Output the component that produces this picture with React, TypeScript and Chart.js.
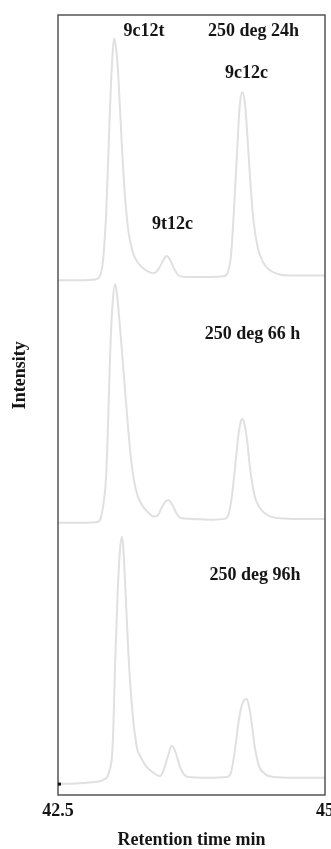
import React, { useEffect, useRef } from "react";
import { Chart, registerables } from "chart.js";

Chart.register(...registerables);

// ---- Data (retention time in min, intensity in arbitrary units above each trace's baseline) ----
const seriesNames = ["250 deg 24h", "250 deg 66 h", "250 deg 96h"];

const time24h = [42.5, 42.7, 42.85, 42.89, 42.92, 42.95, 42.97, 42.99, 43.01, 43.025, 43.04, 43.06, 43.08, 43.1, 43.13, 43.16, 43.2, 43.25, 43.3, 43.36, 43.4, 43.44, 43.48, 43.515, 43.55, 43.59, 43.63, 43.7, 43.9, 44.05, 44.09, 44.12, 44.15, 44.18, 44.2, 44.225, 44.25, 44.27, 44.3, 44.33, 44.37, 44.42, 44.48, 44.56, 44.7, 45.0];
const intensity24h = [0, 0, 0.1, 0.5, 2.3, 8.3, 15.4, 23.1, 28.8, 31.0, 30.1, 27.2, 22.1, 16.7, 10.3, 6.2, 3.6, 2.2, 1.5, 1.0, 0.9, 1.4, 2.4, 3.1, 2.6, 1.4, 0.6, 0.4, 0.4, 0.5, 1.0, 3.2, 9.6, 17.3, 22.1, 24.1, 22.7, 19.2, 12.8, 7.7, 4.2, 2.3, 1.3, 0.8, 0.6, 0.6];

const time66h = [42.5, 42.72, 42.87, 42.9, 42.93, 42.95, 42.97, 42.99, 43.01, 43.035, 43.055, 43.075, 43.1, 43.13, 43.16, 43.19, 43.23, 43.28, 43.34, 43.4, 43.43, 43.47, 43.51, 43.535, 43.57, 43.61, 43.65, 43.75, 43.95, 44.06, 44.1, 44.13, 44.16, 44.19, 44.21, 44.225, 44.245, 44.27, 44.3, 44.34, 44.39, 44.46, 44.55, 44.7, 45.0];
const intensity66h = [0, 0, 0.1, 0.6, 2.9, 5.8, 13.2, 22.2, 27.9, 30.6, 29.0, 26.0, 21.8, 16.6, 11.6, 7.5, 4.2, 2.4, 1.4, 0.8, 0.9, 1.9, 2.8, 2.9, 2.3, 1.2, 0.6, 0.5, 0.4, 0.5, 1.2, 3.6, 7.4, 11.3, 12.9, 13.3, 12.7, 10.6, 6.8, 3.5, 1.9, 1.0, 0.6, 0.5, 0.5];

const time96h = [42.5, 42.7, 42.86, 42.9, 42.93, 42.96, 42.985, 43.005, 43.02, 43.035, 43.06, 43.08, 43.097, 43.11, 43.13, 43.16, 43.2, 43.24, 43.27, 43.33, 43.4, 43.455, 43.49, 43.53, 43.565, 43.6, 43.64, 43.68, 43.72, 43.9, 44.08, 44.12, 44.15, 44.18, 44.21, 44.235, 44.26, 44.28, 44.31, 44.34, 44.38, 44.44, 44.52, 44.7, 45.0];
const intensity96h = [0, 0.1, 0.3, 0.4, 0.6, 0.9, 1.9, 3.5, 8.0, 15.5, 25.0, 30.0, 31.7, 30.6, 25.3, 16.5, 8.8, 4.6, 3.6, 2.2, 1.4, 1.0, 1.8, 3.6, 4.9, 4.1, 2.3, 1.2, 0.9, 0.8, 0.9, 1.5, 3.7, 6.9, 9.5, 10.6, 10.9, 10.5, 8.2, 5.0, 2.4, 1.3, 0.9, 0.8, 0.8];

// vertical offsets used to stack the chromatograms
const traceOffsets = [66.0, 34.9, 1.4];

// x-axis ticks
const xTickValues = [42.5, 45];
const xTickLabels = ["42.5", "45"];

// peak / condition labels: text, retention time, level
const labelTexts = ["9c12t", "250 deg 24h", "9c12c", "9t12c", "250 deg 66 h", "250 deg 96h"];
const labelTimes = [43.305, 44.331, 44.265, 43.572, 44.321, 44.345];
const labelLevels = [97.95, 97.95, 92.5, 73.2, 59.1, 28.2];

const FONT_FAMILY = '"Liberation Serif", "Times New Roman", serif';
const TEXT_COLOR = "#151515";

export default function App() {
  const canvasRef = useRef<HTMLCanvasElement | null>(null);

  useEffect(() => {
    const canvas = canvasRef.current;
    if (!canvas) return;

    const traces = [
      [time24h, intensity24h],
      [time66h, intensity66h],
      [time96h, intensity96h],
    ];

    const datasets = traces.map(([times, vals], i) => ({
      label: seriesNames[i],
      data: (times as number[]).map((t, j) => ({ x: t, y: traceOffsets[i] + (vals as number[])[j] })),
      borderColor: "rgb(224,224,224)",
      borderWidth: 2,
      pointRadius: 0,
      fill: false,
      cubicInterpolationMode: "monotone" as const,
    }));

    const decorPlugin = {
      id: "decor",
      afterDatasetsDraw(chart: any) {
        const { ctx, chartArea, scales } = chart;
        const xs = scales.x;
        const ys = scales.y;
        ctx.save();
        // frame
        ctx.strokeStyle = "#555";
        ctx.lineWidth = 1.5;
        ctx.strokeRect(chartArea.left, chartArea.top, chartArea.right - chartArea.left, chartArea.bottom - chartArea.top);
        // small tick at lowest baseline
        ctx.fillStyle = "#111";
        ctx.fillRect(chartArea.left, ys.getPixelForValue(traceOffsets[2]) - 1.5, 3, 3);
        // labels
        ctx.fillStyle = TEXT_COLOR;
        ctx.font = `bold 18px ${FONT_FAMILY}`;
        ctx.textAlign = "center";
        ctx.textBaseline = "middle";
        labelTexts.forEach((txt, i) => {
          ctx.fillText(txt, xs.getPixelForValue(labelTimes[i]), ys.getPixelForValue(labelLevels[i]));
        });
        // y-axis title
        ctx.translate(chartArea.left - 38, ys.getPixelForValue(53.8));
        ctx.rotate(-Math.PI / 2);
        ctx.fillText("Intensity", 0, 0);
        ctx.restore();
      },
    };

    const chart = new Chart(canvas, {
      type: "line",
      data: { datasets },
      options: {
        animation: false,
        responsive: false,
        maintainAspectRatio: false,
        layout: { padding: { left: 58, top: 15, right: 6, bottom: 0 } },
        plugins: { legend: { display: false }, tooltip: { enabled: false } },
        scales: {
          x: {
            type: "linear",
            min: 42.5,
            max: 45,
            grid: { display: false, drawTicks: false },
            border: { display: false },
            afterBuildTicks: (axis: any) => {
              axis.ticks = xTickValues.map((v) => ({ value: v }));
            },
            afterFit: (scale: any) => {
              scale.height = 54;
              scale.paddingLeft = 0;
              scale.paddingRight = 0;
            },
            ticks: {
              padding: 6,
              color: TEXT_COLOR,
              font: { family: FONT_FAMILY, size: 18, weight: "bold" },
              maxRotation: 0,
              autoSkip: false,
              callback: (v: any) => {
                const idx = xTickValues.indexOf(Number(v));
                return idx >= 0 ? xTickLabels[idx] : "";
              },
            },
            title: {
              display: true,
              text: "Retention time min",
              color: TEXT_COLOR,
              padding: 0,
              font: { family: FONT_FAMILY, size: 18, weight: "bold", lineHeight: 1 },
            },
          },
          y: {
            type: "linear",
            display: false,
            min: 0,
            max: 100,
          },
        },
      },
      plugins: [decorPlugin],
    });

    return () => chart.destroy();
  }, []);

  return (
    <div style={{ position: "fixed", left: 0, top: 0, width: 331, height: 849, background: "#fff" }}>
      <canvas ref={canvasRef} width={331} height={849} style={{ display: "block" }} />
    </div>
  );
}
